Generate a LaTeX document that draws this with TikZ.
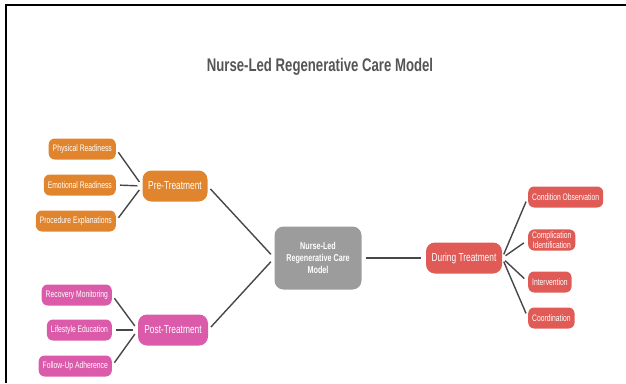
\documentclass[tikz,border=0pt]{standalone}
\usepackage{fontspec}
\setmainfont{Liberation Sans}[FakeStretch=0.72]
\usetikzlibrary{positioning}
\definecolor{pretreat}   {HTML}{E0852E}
\definecolor{posttreat}  {HTML}{DB5AA9}
\definecolor{duringtreat}{HTML}{E05A56}
\definecolor{core}       {HTML}{9C9C9C}
\definecolor{linkgray}   {HTML}{474747}
\definecolor{heading}    {HTML}{555555}

\begin{document}
\begin{tikzpicture}[x=1pt, y=-1pt,
    leaf/.style={rounded corners=6pt, text=white, font=\fontsize{9.4}{10.2}\selectfont,
                 inner xsep=4pt, inner ysep=2pt, minimum height=21pt, align=center},
    phase/.style={rounded corners=9pt, text=white, font=\fontsize{11.6}{13}\selectfont,
                  minimum height=31pt},
    link/.style={draw=linkgray, line width=1.4pt, shorten <=4pt, shorten >=5pt}]
  \useasboundingbox (0,0) rectangle (626,383);
  \draw[line width=2pt] (6,383) -- (6,5) -- (626,5);

  \node[font=\fontsize{18.3}{20}\selectfont\bfseries, text=heading] (title) at (320,67)
    {Nurse-Led Regenerative Care Model};

  % hub and phases
  \node[fill=core, text=white, rounded corners=9pt, font=\fontsize{10}{12}\selectfont\bfseries,
        align=center, minimum width=87pt, minimum height=63pt] (model) at (318,258)
    {Nurse-Led\\Regenerative Care\\Model};
  \node[phase, fill=pretreat, minimum width=65pt] (pre) at (175,186) {Pre-Treatment};
  \node[phase, fill=posttreat, minimum width=70pt] (post) at (173,330) {Post-Treatment};
  \node[phase, fill=duringtreat, minimum width=76pt] (during) at (464,258) {During Treatment};

  % leaves
  \foreach \n/\y [count=\i] in
    {Physical Readiness/149, Emotional Readiness/185, Procedure Explanations/221}
    \node[leaf, fill=pretreat, anchor=east] (pre\i) at (116,\y) {\n};
  \foreach \n/\y [count=\i] in
    {Recovery Monitoring/295, Lifestyle Education/330, Follow-Up Adherence/366}
    \node[leaf, fill=posttreat, anchor=east] (post\i) at (112,\y) {\n};
  \foreach \n/\y [count=\i] in
    {Condition Observation/197, {Complication\\Identification}/240, Intervention/282, Coordination/318}
    \node[leaf, fill=duringtreat, anchor=west] (during\i) at (528,\y) {\n};

  % connectors
  \foreach \i in {1,2,3} {
    \draw[link] (pre\i.east) -- (pre.west);
    \draw[link] (post\i.east) -- (post.west);
  }
  \foreach \i in {1,...,4}
    \draw[link] (during.east) -- (during\i.west);
  \draw[link] (pre.east) -- (model.west);
  \draw[link] (post.east) -- (model.west);
  \draw[link] (model.east) -- (during.west);
\end{tikzpicture}
\end{document}
